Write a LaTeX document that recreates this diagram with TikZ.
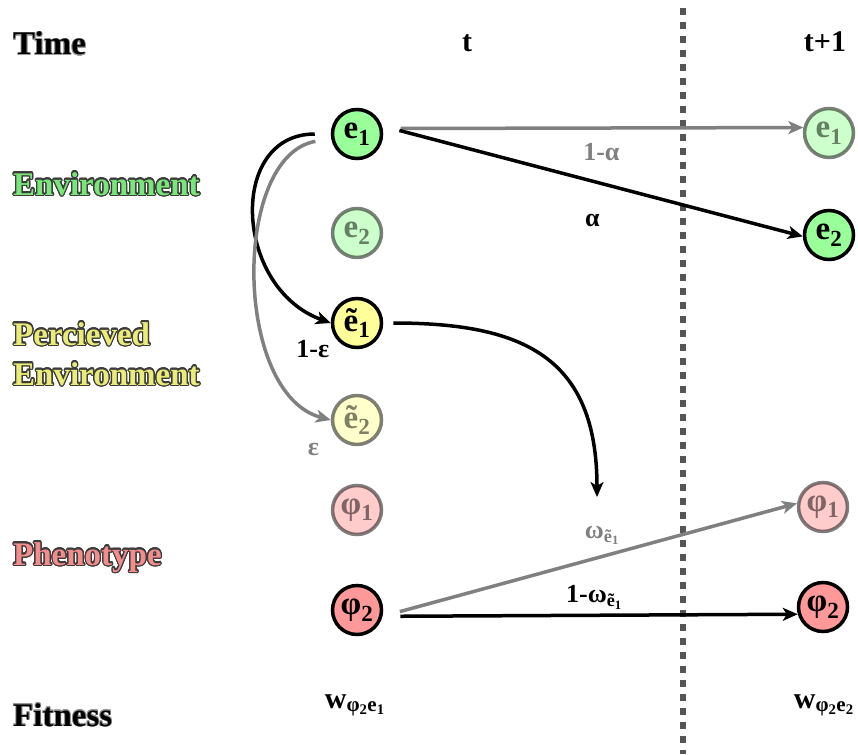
\documentclass[tikz,border=0pt]{standalone}
\usepackage{fontspec}
\setmainfont{Liberation Serif}
\usepackage{contour}
\usetikzlibrary{arrows.meta, positioning, calc}
\contournumber{24}
\definecolor{envgreen}{RGB}{153,255,153}
\definecolor{percyellow}{RGB}{255,255,153}
\definecolor{phenored}{RGB}{255,153,153}
\definecolor{edgegray}{RGB}{128,128,128}
\definecolor{divgray}{RGB}{85,85,85}
\definecolor{halo}{RGB}{60,60,60}
\definecolor{envtext}{RGB}{120,230,120}
\definecolor{perctext}{RGB}{235,235,120}
\definecolor{phenotext}{RGB}{245,140,140}
\newcommand{\nodefont}{\fontsize{33}{36}\selectfont\bfseries}
\newcommand{\rowfont}{\fontsize{33}{36}\selectfont\bfseries}
\newcommand{\lblfont}{\fontsize{26}{29}\selectfont\bfseries}
\newcommand{\thinhalo}[1]{{\contourlength{0.7pt}\contour{gray!80}{#1}}}
\newcommand{\colhalo}[2]{{\contourlength{1.2pt}\color{#1}\contour{halo}{#2}}}

\begin{document}
\begin{tikzpicture}[
    x=1pt, y=1pt,
    state/.style={circle, draw, line width=3.5pt, minimum size=49pt, inner sep=0pt, font=\nodefont},
    faded/.style={opacity=.5},
    rowlabel/.style={anchor=base west, inner sep=0pt, font=\rowfont},
    collbl/.style={anchor=base, inner sep=0pt, font=\fontsize{30}{34}\selectfont\bfseries},
    lbl/.style={font=\lblfont, inner sep=2pt},
    arrow/.style={-{Stealth[length=15pt,width=13pt,inset=4pt]}, line width=3.5pt},
    grayarrow/.style={arrow, edgegray},
    divider/.style={draw=divgray, line width=6pt, dash pattern=on 7pt off 7pt}
  ]
  \useasboundingbox (0,0) rectangle (858,-754);

  % Row labels
  \node[rowlabel] (timelbl) at (13,-55) {\thinhalo{Time}};
  \node[rowlabel] (envlbl) at (13,-195) {\colhalo{envtext}{Environment}};
  \node[rowlabel] (perclbl) at (13,-345) {\colhalo{perctext}{Percieved}};
  \node[rowlabel] (perclbltwo) at (13,-385) {\colhalo{perctext}{Environment}};
  \node[rowlabel] (phenolbl) at (13,-565) {\colhalo{phenotext}{Phenotype}};
  \node[rowlabel] (fitlbl) at (13,-726) {\thinhalo{Fitness}};

  % Column labels
  \node[collbl] (tnow) at (467,-52) {t};
  \node[collbl] (tnext) at (825,-52) {t+1};

  % Time divider
  \draw[divider] (683,-8) -- (683,-754);

  % States at t
  \node[state, fill=envgreen] (e1) at (357,-134) {e\textsubscript{1}};
  \node[state, fill=envgreen, faded] (e2) at (357,-233) {e\textsubscript{2}};
  \node[state, fill=percyellow] (et1) at (357,-323) {ẽ\textsubscript{1}};
  \node[state, fill=percyellow, faded] (et2) at (357,-420) {ẽ\textsubscript{2}};
  \node[state, fill=phenored, faded] (ph1) at (357,-510) {φ\textsubscript{1}};
  \node[state, fill=phenored] (ph2) at (357,-610) {φ\textsubscript{2}};

  % States at t+1
  \node[state, fill=envgreen, faded] (e1n) at (829,-133) {e\textsubscript{1}};
  \node[state, fill=envgreen] (e2n) at (829,-235) {e\textsubscript{2}};
  \node[state, fill=phenored, faded] (ph1n) at (823,-507) {φ\textsubscript{1}};
  \node[state, fill=phenored] (ph2n) at (823,-607) {φ\textsubscript{2}};
  \coordinate (omega) at (597,-497);

  % Fitness
  \node[collbl, font=\fontsize{30}{32}\selectfont\bfseries] (wnow) at (355,-708) {w\textsubscript{φ\textsubscript{2}e\textsubscript{1}}};
  \node[collbl, font=\fontsize{30}{32}\selectfont\bfseries] (wnext) at (824,-708) {w\textsubscript{φ\textsubscript{2}e\textsubscript{2}}};

  % Environment transitions
  \draw[grayarrow, shorten <=18pt] (e1.12) -- node[lbl, text=edgegray, pos=.52, below=12pt] {1-α} (e1n.168);
  \draw[arrow, shorten <=18pt] (e1.18) -- node[lbl, pos=.5, below=29pt] {α} (e2n.183);

  % Perception
  \draw[arrow, shorten <=16pt] (e1.west) to[out=180, in=160, looseness=1.4] node[lbl, at end, below=14pt, xshift=-18pt] {1-ε} (et1.west);
  \draw[grayarrow, shorten <=16pt] (e1.190) to[out=190, in=165, looseness=.92] node[lbl, text=edgegray, at end, below left=19pt and 8pt] {ε} (et2.west);
  \draw[arrow, shorten <=10pt] (et1.east) to[out=0, in=90, looseness=1.3] (omega);

  % Phenotype transitions
  \draw[grayarrow, shorten <=18pt] (ph2.-14) -- node[lbl, text=edgegray, pos=.53, above=8pt] {ω\textsubscript{ẽ\textsubscript{1}}} (ph1n.172);
  \draw[arrow, shorten <=18pt] (ph2.-14) -- node[lbl, pos=.51, above=2pt] {1-ω\textsubscript{ẽ\textsubscript{1}}} (ph2n.196);
\end{tikzpicture}
\end{document}
